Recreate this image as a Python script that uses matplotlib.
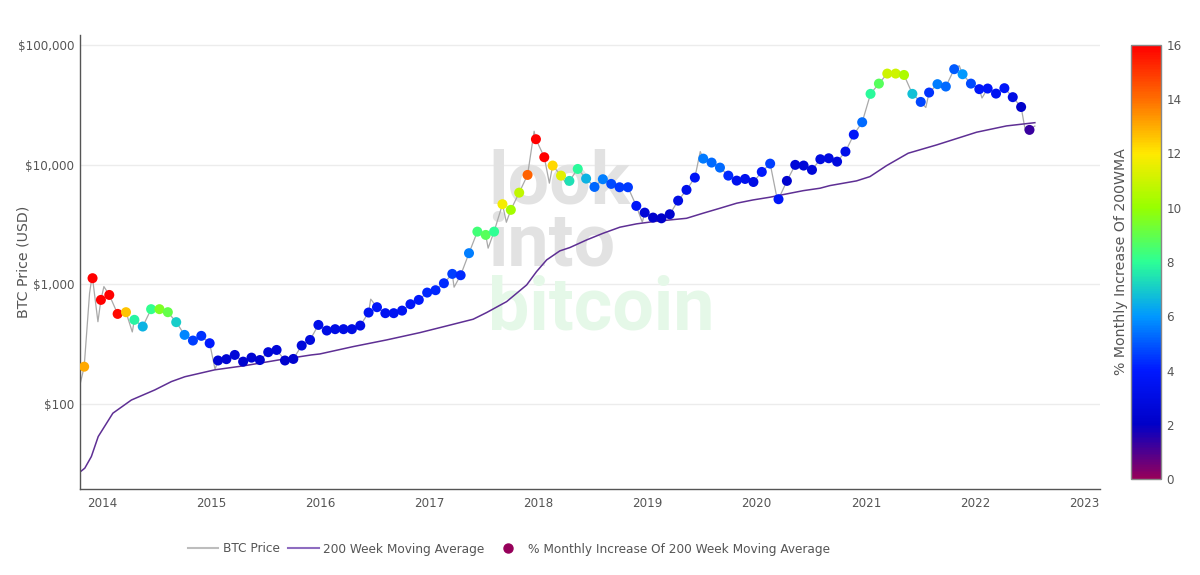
import numpy as np
import pandas as pd
import matplotlib
matplotlib.use('Agg')
import matplotlib.pyplot as plt
import matplotlib.dates as mdates
from matplotlib.colors import LinearSegmentedColormap
from matplotlib.ticker import FixedLocator, FixedFormatter, NullLocator
from matplotlib.lines import Line2D

plt.rcParams['font.family'] = ['DejaVu Sans']

# ---------------- data ----------------
# 4-weekly sample points (BTC price + % monthly increase of 200WMA)
start_date = '2013-11-02'
step_days = 28
point_price = [
    205, 1125, 741, 815, 566, 585, 505, 444, 620, 620,
    585, 483, 378, 339, 371, 322, 231, 237, 257, 226,
    244, 233, 271, 283, 231, 238, 308, 343, 458, 411,
    422, 422, 422, 452, 581, 644, 574, 574, 603, 682,
    741, 853, 893, 1021, 1222, 1191, 1820, 2755, 2586, 2755,
    4670, 4188, 5830, 8200, 16300, 11530, 9820, 8090, 7310, 9200,
    7640, 6510, 7550, 6900, 6470, 6470, 4520, 3970, 3610, 3560,
    3850, 5000, 6150, 7790, 11220, 10400, 9440, 8090, 7350, 7590,
    7160, 8690, 10190, 5140, 7310, 9950, 9820, 9040, 11090, 11300,
    10590, 12850, 17800, 22600, 39000, 47500, 57600, 57600, 56100, 39000,
    33400, 40000, 47000, 44900, 62700, 56900, 47500, 42700, 43200, 39200,
    43500, 36600, 30300, 19500,
]
point_pct = [
    13.0, 16.0, 16.0, 16.0, 15.8, 12.6, 7.8, 6.5, 8.1, 9.5,
    9.0, 7.0, 5.7, 4.6, 4.4, 4.0, 2.4, 2.4, 2.6, 2.3,
    2.4, 2.3, 2.6, 2.6, 2.2, 2.3, 2.7, 2.8, 3.2, 3.0,
    3.0, 3.0, 3.0, 3.1, 3.6, 3.8, 3.5, 3.5, 3.6, 3.8,
    3.9, 4.2, 4.2, 4.3, 4.6, 4.3, 5.6, 8.4, 8.8, 8.0,
    11.8, 10.2, 10.8, 14.2, 16.0, 16.0, 12.3, 11.4, 7.4, 7.9,
    6.5, 5.2, 5.6, 4.8, 4.5, 4.5, 3.8, 2.6, 2.2, 2.1,
    2.3, 3.0, 3.3, 3.7, 5.5, 5.3, 5.3, 4.3, 3.4, 3.4,
    3.0, 3.9, 4.6, 3.8, 2.3, 2.6, 2.6, 2.6, 2.9, 2.9,
    2.8, 3.2, 3.8, 5.3, 7.9, 8.8, 11.0, 11.0, 10.4, 6.8,
    4.7, 4.4, 5.6, 5.3, 5.0, 6.0, 4.8, 3.8, 3.8, 3.5,
    3.8, 3.0, 2.1, 1.3,
]

# additional BTC price extremes
extra_dates = [
    '2013-10-19', '2013-11-09', '2013-11-20', '2013-11-29', '2013-12-18',
    '2014-01-07', '2014-04-12', '2015-01-14', '2016-06-18', '2017-03-24',
    '2017-07-16', '2017-09-15', '2017-12-17', '2018-02-06', '2018-04-06',
    '2018-12-14', '2019-06-26', '2020-03-12', '2021-04-13', '2021-07-20',
    '2021-11-09', '2022-01-24', '2022-06-18', '2022-07-20',
]
extra_prices = [
    145, 355, 843, 1197, 487,
    957, 400, 195, 752, 946,
    2005, 3300, 19000, 7000, 6770,
    3300, 12850, 4800, 62000, 30000,
    67000, 36000, 19200, 21000,
]

# 200 week moving average
wma_dates = [
    '2013-10-18', '2013-11-04', '2013-11-26', '2013-12-19', '2014-02-06',
    '2014-04-09', '2014-06-26', '2014-08-21', '2014-10-05', '2015-01-13',
    '2015-04-23', '2015-08-13', '2015-12-02', '2015-12-31', '2016-04-21',
    '2016-08-10', '2016-11-30', '2017-02-27', '2017-05-27', '2017-07-11',
    '2017-09-16', '2017-11-22', '2017-12-25', '2018-01-28', '2018-03-13',
    '2018-04-16', '2018-06-11', '2018-08-05', '2018-09-30', '2018-11-25',
    '2019-01-20', '2019-03-16', '2019-05-11', '2019-07-06', '2019-08-31',
    '2019-10-26', '2019-12-20', '2020-02-14', '2020-04-10', '2020-06-05',
    '2020-07-31', '2020-09-02', '2020-11-30', '2021-01-14', '2021-03-11',
    '2021-05-22', '2021-08-25', '2022-01-06', '2022-04-16', '2022-07-20',
]
wma_values = [
    26.9, 29.1, 36.4, 53.5, 83.8,
    108, 131, 154, 169, 193,
    209, 233, 257, 262, 302,
    343, 395, 449, 511, 581,
    717, 988, 1277, 1600, 1902,
    2030, 2350, 2670, 3000, 3200,
    3340, 3450, 3560, 3930, 4320,
    4760, 5070, 5340, 5690, 6060,
    6350, 6680, 7310, 7940, 9820,
    12450, 14600, 18650, 21050, 22400,
]

y_ticks = [100, 1000, 10000, 100000]
y_tick_labels = ['$100', '$1,000', '$10,000', '$100,000']
cbar_ticks = [0, 2, 4, 6, 8, 10, 12, 14, 16]
rainbow_colors = ['#96005a', '#0000c8', '#0019ff', '#0098ff', '#2cff96',
                  '#97ff00', '#ffea00', '#ff6f00', '#ff0000']
legend_labels = ['BTC Price', '200 Week Moving Average',
                 '% Monthly Increase Of 200 Week Moving Average']

# ---------------- build series ----------------
point_dates = pd.date_range(start_date, periods=len(point_price), freq=f'{step_days}D')
price_series = pd.concat([
    pd.Series(point_price, index=point_dates),
    pd.Series(extra_prices, index=pd.to_datetime(extra_dates)),
]).sort_index()
wma_idx = pd.to_datetime(wma_dates)

cmap = LinearSegmentedColormap.from_list('plotly_rainbow', rainbow_colors)

# ---------------- figure ----------------
W, H = 1200, 575
fig = plt.figure(figsize=(12, 5.75), dpi=100)
ax_l, ax_r, ax_t, ax_b = 80, 1100, 35, 489
ax = fig.add_axes([ax_l / W, 1 - ax_b / H, (ax_r - ax_l) / W, (ax_b - ax_t) / H])

txt_col = '#555555'

# watermark
wm_font = dict(family=['Roboto', 'DejaVu Sans'], fontweight='bold', fontsize=53,
               transform=ax.transAxes, ha='left', va='baseline', zorder=0.6)
wx = (488 - ax_l) / (ax_r - ax_l)
ax.text(wx, (ax_b - 203) / (ax_b - ax_t), 'look', color='#e2e2e2', **wm_font)
ax.text(wx, (ax_b - 266) / (ax_b - ax_t), 'into', color='#e2e2e2', **wm_font)
ax.text(wx, (ax_b - 330) / (ax_b - ax_t), 'bitcoin', color='#e5f8e8', **wm_font)

ax.plot(price_series.index, price_series.values, color='#a9a9a9', lw=0.9, zorder=2)
ax.plot(wma_idx, wma_values, color='#5e2f94', lw=1.1, zorder=2.5)
sc = ax.scatter(point_dates, point_price, c=point_pct, cmap=cmap, vmin=0, vmax=16,
                s=52, linewidths=0, zorder=3)

ax.set_yscale('log')
ax.set_ylim(19.5, 121000)
ax.set_xlim(pd.Timestamp('2013-10-19'), pd.Timestamp('2023-02-23'))
ax.yaxis.set_major_locator(FixedLocator(y_ticks))
ax.yaxis.set_major_formatter(FixedFormatter(y_tick_labels))
ax.yaxis.set_minor_locator(NullLocator())
ax.xaxis.set_major_locator(mdates.YearLocator())
ax.xaxis.set_major_formatter(mdates.DateFormatter('%Y'))
ax.tick_params(axis='both', length=0, labelsize=8.6, colors=txt_col)
ax.tick_params(axis='y', pad=4)
ax.tick_params(axis='x', pad=6)
ax.yaxis.grid(True, color='#ececec', lw=1)
ax.set_axisbelow(True)
for s in ['top', 'right']:
    ax.spines[s].set_visible(False)
for s in ['left', 'bottom']:
    ax.spines[s].set_color('#555555')
    ax.spines[s].set_linewidth(1)

fig.text(24 / W, 1 - 262 / H, 'BTC Price (USD)', rotation=90, ha='center',
         va='center', fontsize=10.2, color=txt_col)

# colorbar
cax = fig.add_axes([1131 / W, 1 - 479 / H, 30 / W, 434 / H])
cb = fig.colorbar(sc, cax=cax, ticks=cbar_ticks)
cb.outline.set_edgecolor('#888888')
cb.outline.set_linewidth(1)
cax.tick_params(length=0, pad=4, labelsize=8.6, colors=txt_col)
fig.text(1121 / W, 1 - 262 / H, '% Monthly Increase Of 200WMA', rotation=90,
         ha='center', va='center', fontsize=10.2, color=txt_col)

# legend
handles = [
    Line2D([], [], color='#bdbdbd', lw=1.5),
    Line2D([], [], color='#8e6cc0', lw=1.5),
    Line2D([], [], color='#96005a', marker='o', linestyle='none', markersize=6.5),
]
fig.legend(handles, legend_labels, loc='center', bbox_to_anchor=(509 / W, 1 - 549 / H),
           ncol=3, frameon=False, fontsize=8.7, handlelength=2.5, handletextpad=0.4,
           columnspacing=0.7, labelcolor=txt_col)

fig.savefig('out.png', dpi=100)
